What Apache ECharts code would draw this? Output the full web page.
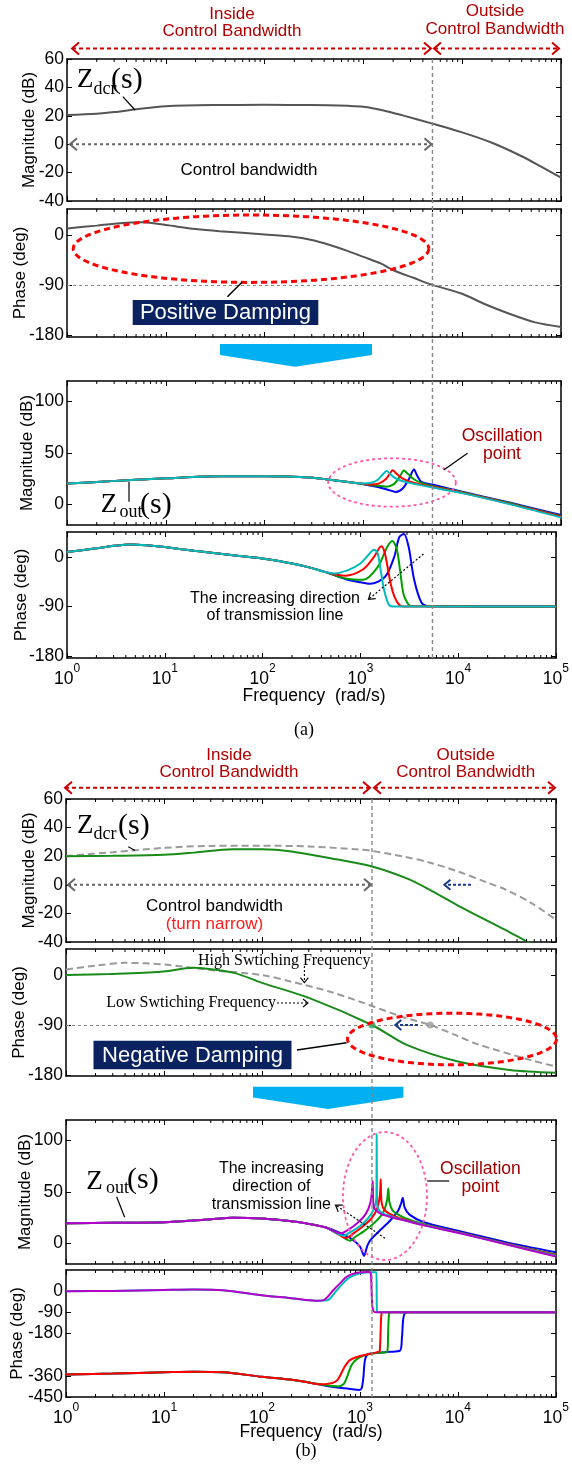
<!DOCTYPE html>
<html>
<head>
<meta charset="utf-8">
<script src="https://cdn.jsdelivr.net/npm/echarts@6.0.0/dist/echarts.min.js"></script>
<style>
html,body{margin:0;padding:0;background:#ffffff;}
#chart{width:572px;height:1469px;}
</style>
</head>
<body>
<div id="chart"></div>
<script>
const SANS = "'Liberation Sans', Arial, Helvetica, sans-serif";
const SERIF = "'Liberation Serif', 'Times New Roman', serif";

// ---------- tick labels ----------
const decadeTicks = [1, 10, 100, 1000, 10000, 100000];
const minorMultipliers = [2, 3, 4, 5, 6, 7, 8, 9];
const magTicks = [-40, -20, 0, 20, 40, 60];
const phaseTicks = [-180, -90, 0];
const zoutMagTicks = [0, 50, 100];
const phaseTicksWide = [-450, -360, -180, -90, 0];

// ---------- reference frequencies (rad/s) ----------
const cutoffA = 5000;   // control bandwidth, case (a)
const cutoffB = 1325;   // control bandwidth, case (b)
const cross90B = [[1325, -90]];     // low switching frequency -90 deg point
const cross90BHigh = [[5200, -90]]; // high switching frequency -90 deg point

// ---------- (a) Zdcr ----------
const zdcrMagA = [[1,20.6],[2,21.5],[3,22.6],[5,24.6],[10,26.8],[30,27.6],[100,27.7],[300,27.6],[700,27],[1000,26.4],[1600,23.8],[2500,20.3],[5000,14.5],[10000,8.3],[20000,1],[40000,-8.5],[65000,-16.4],[100000,-23.5]];
const zdcrPhaseA = [[1,12],[2,17],[3,20.5],[5.8,23],[10,18],[20,11],[35,7],[100,1],[192,-3],[300,-9],[457,-18],[700,-29],[1000,-39.5],[1510,-51.5],[2040,-64],[3250,-77.6],[5000,-90],[10000,-106],[16600,-124],[30000,-142],[55000,-157.6],[100000,-166]];

// ---------- (a) Zout magnitude ----------
const zoutMagBaseA = [[1,20.3],[2,21.8],[4,23.5],[10,25.4],[35,27.4],[100,27.4],[310,26],[437,24.2],[700,21.8]];
const blueMagA  = [[1000,19.7],[1400,17],[1800,14],[2130,12.2],[2500,15.5],[2900,25],[3250,34],[3500,28],[3865,22],[5000,19.3],[10000,12.4],[30000,1.8],[100000,-10.3]];
const greenMagA = [[1000,19.8],[1300,18.5],[1700,17.3],[2050,20],[2350,27.5],[2570,33],[2800,30],[3300,24],[4000,20.5],[5000,18],[10000,11.8],[30000,1.3],[100000,-11.2]];
const redMagA   = [[1000,20],[1200,19.4],[1450,20.5],[1700,25],[1870,30.5],[1980,33.2],[2150,30],[2500,25],[3200,21],[5000,17.2],[10000,11.4],[30000,0.8],[100000,-11.8]];
const cyanMagA  = [[1000,20.3],[1200,21],[1400,24],[1600,30],[1715,32.5],[1850,30],[2100,25.5],[2500,22.5],[3200,20.2],[5000,16.4],[10000,11],[30000,0.3],[100000,-12.6]];

// ---------- (a) Zout phase ----------
const zoutPhBaseA = [[1,9],[2,15.5],[3,20],[4.5,22.6],[7,20.5],[10,17.8],[20,11],[50,3],[100,-3],[200,-12],[300,-19]];
const bluePhA  = [[450,-28],[700,-40],[1000,-46],[1260,-48.6],[1790,-36],[2220,0],[2500,35.6],[2790,41.6],[3120,17.8],[3550,-41.5],[4220,-83],[5000,-89.5],[100000,-90]];
const greenPhA = [[450,-28],[700,-39],[1070,-41.5],[1510,-18],[1870,17],[2120,28.5],[2350,15],[2550,-25],[2750,-66],[3000,-82],[3300,-89],[100000,-90]];
const redPhA   = [[450,-28],[700,-34],[1070,-22.4],[1380,0],[1640,19],[1760,10],[1870,-12],[2050,-50],[2220,-71],[2500,-87],[2800,-90],[100000,-90]];
const cyanPhA  = [[450,-28],[540,-30],[760,-23.5],[1000,-12],[1200,3],[1380,13],[1500,7],[1600,-20],[1750,-60],[1950,-86],[2200,-90],[100000,-90]];

// ---------- (b) Zdcr ----------
const zdcrMagHighB = [[1,20.2],[3,22.8],[10,25.8],[30,27.2],[100,27.3],[300,26.8],[1000,24.6],[1325,23.7],[2760,19.8],[5000,15.8],[10000,9.3],[20000,1.5],[31000,-3.5],[56700,-13],[100000,-24.4]];
const zdcrMagLowB = [[1,20],[3,20.3],[10,21],[20,22.5],[50,24.9],[100,24.9],[200,23.3],[500,18.6],[1325,12.8],[3000,4.5],[5000,-3],[10000,-14.5],[30000,-31.4],[51600,-40],[60000,-43.5]];
const zdcrPhHighB = [[1,10],[2,17],[4,22],[10,19],[30,9],[100,0],[200,-12],[495,-30],[1000,-48],[2760,-76],[5200,-90],[10000,-110],[15500,-124],[56700,-154],[100000,-165]];
const zdcrPhLowB = [[1,0],[2.8,2],[9.3,6],[20,13],[26,12],[52,4],[100,-14],[310,-42],[1325,-90],[3000,-126],[10000,-156],[33600,-171],[100000,-176]];

// ---------- (b) Zout magnitude ----------
const zoutMagBaseB = [[1,19.6],[3,20],[10,20.6],[30,23.5],[50,24.9],[100,24.2],[200,21.5],[300,19],[450,15.5]];
const blueMagB    = [[600,11],[800,5],[1000,-3],[1099,-12],[1180,-3],[1260,2.6],[1585,12.4],[2023,22],[2455,32],[2650,40],[2727,44.5],[2850,35],[3200,28],[4400,21],[10000,12.3],[30000,1.5],[100000,-8.6]];
const greenMagB   = [[600,9.5],[790,2.6],[900,6.5],[1100,12],[1400,20],[1700,29],[1880,41],[1945,53.3],[2000,40],[2200,31],[3000,24],[4400,18.8],[10000,11],[30000,0.3],[100000,-10.8]];
const redMagB     = [[560,10.5],[720,5.3],[850,9.5],[1050,16],[1300,24],[1500,34],[1600,48],[1627,62.5],[1660,40],[1800,32],[2300,26],[3000,22.5],[4400,18.3],[10000,10.8],[30000,0],[100000,-11.3]];
const cyanMagB    = [[560,10.5],[676,7.5],[800,11],[1000,17],[1200,24],[1380,33],[1470,45],[1480,106.6],[1495,38],[1650,30],[2200,25.5],[3000,22],[4400,18],[10000,10.6],[30000,-0.3],[100000,-12]];
const magentaMagB = [[540,12],[625,9.8],[750,13],[950,20],[1150,29],[1280,40],[1335,55],[1348,60.8],[1370,38],[1430,33],[1650,28.5],[2200,25],[3000,21.8],[4400,17.8],[10000,10.3],[30000,-0.6],[100000,-12.8]];

// ---------- (b) Zout phase ----------
const zoutPhUpperBaseB = [[1,0],[3,1],[10,5],[20,7],[40,4],[100,-17],[209,-31],[350,-41]];
const cyanPhB    = [[430,-40],[480,-36],[570,0],[660,30],[780,58],[1000,76],[1300,80],[1475,80],[1482,-20],[1490,-86],[1550,-90],[100000,-90]];
const magentaPhB = [[430,-37],[534,4],[625,33],[731,61],[925,78],[1216,82],[1285,78],[1310,20],[1335,-60],[1380,-86],[1450,-90],[100000,-90]];
const zoutPhLowerBaseB = [[1,-354],[3,-350],[10,-345],[20,-342.5],[40,-345],[100,-364],[209,-378],[300,-388]];
const bluePhB  = [[500,-405],[800,-416],[986,-420],[1040,-413],[1082,-370],[1125,-293],[1216,-267],[1600,-262],[2000,-258],[2560,-253],[2680,-200],[2760,-120],[2860,-95],[3100,-90],[100000,-90]];
const greenPhB = [[450,-400],[600,-405],[680,-396],[731,-370],[822,-314],[925,-290],[1170,-270],[1500,-262],[1900,-258],[1940,-170],[1980,-100],[2060,-90],[100000,-90]];
const redPhB   = [[382,-396],[500,-392],[588,-378],[698,-321],[790,-293],[1000,-276],[1265,-267],[1538,-258],[1590,-256],[1625,-170],[1655,-100],[1720,-90],[100000,-90]];

// ---------- layout ----------
const panels = [
  {left:67, top:59,   width:494, height:142, min:-40,  max:60,  ticks:magTicks,       name:'Magnitude (dB)', nameX:29.3},
  {left:67, top:209,  width:494, height:128, min:-184, max:47,  ticks:phaseTicks,     name:'Phase (deg)',    nameX:20.2},
  {left:67, top:381,  width:494, height:144, min:-20,  max:120, ticks:zoutMagTicks,   name:'Magnitude (dB)', nameX:27.5},
  {left:67, top:532,  width:494, height:126, min:-183, max:45,  ticks:phaseTicks,     name:'Phase (deg)',    nameX:21.1, xlabels:true},
  {left:66, top:799,  width:490, height:143, min:-40,  max:60,  ticks:magTicks,       name:'Magnitude (dB)', nameX:29.3},
  {left:66, top:949,  width:490, height:127, min:-182, max:47,  ticks:phaseTicks,     name:'Phase (deg)',    nameX:19.3},
  {left:66, top:1120, width:490, height:144, min:-20,  max:120, ticks:zoutMagTicks,   name:'Magnitude (dB)', nameX:25.7},
  {left:66, top:1270, width:490, height:127, min:-450, max:90,  ticks:phaseTicksWide, name:'Phase (deg)',    nameX:17.4, xlabels:true}
];

const minorTickVals = [];
decadeTicks.slice(0, -1).forEach(d => minorMultipliers.forEach(m => minorTickVals.push(d * m)));

const C = {blue:'#0000ff', green:'#00a000', red:'#ff0000', cyan:'#00bcbc', magenta:'#b400c8', gray:'#555555', lgray:'#9a9a9a', dgreen:'#1a8a1a'};

const chart = echarts.init(document.getElementById('chart'), null, {renderer:'canvas'});

const option = {animation:false, backgroundColor:'#ffffff', grid:[], xAxis:[], yAxis:[], series:[]};
const axLine = {show:true, onZero:false, lineStyle:{color:'#000', width:1.5}};
const decadeRich = {
  b:{fontSize:17.5, fontFamily:SANS, color:'#000', lineHeight:25, verticalAlign:'bottom'},
  s:{fontSize:12, fontFamily:SANS, color:'#000', lineHeight:12, verticalAlign:'top'}
};

panels.forEach((p, i) => {
  option.grid.push({left:p.left, top:p.top, width:p.width, height:p.height, containLabel:false});
  const xBase = {type:'log', logBase:10, gridIndex:i, min:1, max:100000, axisLine:axLine,
    axisTick:{show:true, inside:true, length:5, lineStyle:{color:'#000', width:1}}, splitLine:{show:false}};
  option.xAxis.push(Object.assign({}, xBase, {position:'bottom',
    axisLabel:{show:!!p.xlabels, margin:5, formatter:v => '{b|10}{s|' + Math.round(Math.log10(v)) + '}', rich:decadeRich}}));
  option.xAxis.push(Object.assign({}, xBase, {position:'top', axisLabel:{show:false}}));
  const yBase = {type:'value', gridIndex:i, min:p.min, max:p.max, axisLine:axLine, splitLine:{show:false},
    axisTick:{show:true, inside:true, length:5, customValues:p.ticks, lineStyle:{color:'#000', width:1}}};
  option.yAxis.push(Object.assign({}, yBase, {position:'left',
    axisLabel:{show:true, customValues:p.ticks, margin:3, fontSize:17.5, fontFamily:SANS, color:'#000'}}));
  option.yAxis.push(Object.assign({}, yBase, {position:'right', axisLabel:{show:false}}));
  // minor log ticks (top and bottom, inside)
  option.series.push({type:'custom', xAxisIndex:2*i, yAxisIndex:2*i, silent:true, clip:false, z:5,
    data: minorTickVals.map(v => [v, p.min]),
    renderItem:(params, api) => {
      const x = api.coord([api.value(0), api.value(1)])[0];
      const cs = params.coordSys;
      return {type:'group', children:[
        {type:'line', shape:{x1:x, y1:cs.y + cs.height, x2:x, y2:cs.y + cs.height - 3}, style:{stroke:'#000', lineWidth:1}},
        {type:'line', shape:{x1:x, y1:cs.y, x2:x, y2:cs.y + 3}, style:{stroke:'#000', lineWidth:1}}
      ]};
    }});
});

function addLine(panel, data, color, o) {
  o = o || {};
  const s = {type:'line', xAxisIndex:2*panel, yAxisIndex:2*panel, data:data, showSymbol:false, symbol:'none',
    smooth:o.smooth === undefined ? 0.3 : o.smooth, silent:true, clip:true, z:o.z || 3,
    lineStyle:{color:color, width:o.width || 2, type:o.dash || 'solid'}};
  if (o.mark90) {
    s.markLine = {silent:true, symbol:'none', label:{show:false}, animation:false,
      lineStyle:{color:'#888', type:[3,3], width:1.2}, data:[{yAxis:-90}]};
  }
  option.series.push(s);
}

// (a)
addLine(0, zdcrMagA, C.gray);
addLine(1, zdcrPhaseA, C.gray, {mark90:true});
addLine(2, zoutMagBaseA.concat(blueMagA), C.blue);
addLine(2, zoutMagBaseA.concat(greenMagA), C.green);
addLine(2, zoutMagBaseA.concat(redMagA), C.red);
addLine(2, zoutMagBaseA.concat(cyanMagA), C.cyan);
addLine(3, zoutPhBaseA.concat(bluePhA), C.blue);
addLine(3, zoutPhBaseA.concat(greenPhA), C.green);
addLine(3, zoutPhBaseA.concat(redPhA), C.red);
addLine(3, zoutPhBaseA.concat(cyanPhA), C.cyan);
// (b)
addLine(4, zdcrMagHighB, C.lgray, {dash:[7,4]});
addLine(4, zdcrMagLowB, C.dgreen);
addLine(5, zdcrPhHighB, C.lgray, {dash:[7,4], mark90:true});
addLine(5, zdcrPhLowB, C.dgreen);
option.series.push({type:'scatter', xAxisIndex:10, yAxisIndex:10, data:cross90B, symbolSize:7, itemStyle:{color:'#22aa55'}, z:6, silent:true});
option.series.push({type:'scatter', xAxisIndex:10, yAxisIndex:10, data:cross90BHigh, symbolSize:7, itemStyle:{color:'#999999'}, z:6, silent:true});
addLine(6, zoutMagBaseB.concat(blueMagB), C.blue);
addLine(6, zoutMagBaseB.concat(greenMagB), C.green);
addLine(6, zoutMagBaseB.concat(redMagB), C.red);
addLine(6, zoutMagBaseB.concat(cyanMagB), C.cyan);
addLine(6, zoutMagBaseB.concat(magentaMagB), C.magenta);
addLine(7, zoutPhLowerBaseB.concat(bluePhB), C.blue);
addLine(7, zoutPhLowerBaseB.concat(greenPhB), C.green);
addLine(7, zoutPhLowerBaseB.concat(redPhB), C.red);
addLine(7, zoutPhUpperBaseB.concat(cyanPhB), C.cyan);
addLine(7, zoutPhUpperBaseB.concat(magentaPhB), C.magenta);

chart.setOption(option);

// ---------- annotations ----------
const px = (ax, v) => chart.convertToPixel({xAxisIndex:ax}, v);
const py = (ax, v) => chart.convertToPixel({yAxisIndex:ax}, v);
const G = [];
function txt(x, y, text, o) {
  o = o || {};
  G.push({type:'text', x:x, y:y, rotation:o.rot || 0, silent:true, z:100,
    style:{text:text, fill:o.color || '#000', fontSize:o.size || 17, fontFamily:o.family || SANS,
      fontWeight:o.weight || 'normal', align:o.align || 'center', verticalAlign:o.va || 'middle', lineHeight:o.lh || undefined}});
}
function seg(x1, y1, x2, y2, color, lw, dash) {
  G.push({type:'line', silent:true, z:100, shape:{x1:x1, y1:y1, x2:x2, y2:y2}, style:{stroke:color, lineWidth:lw, lineDash:dash || null}});
}
function head(xa, ya, xb, yb, color, lw, L, H) {
  const ang = Math.atan2(yb - ya, xb - xa);
  const bx = xb - L * Math.cos(ang), by = yb - L * Math.sin(ang);
  const ox = -Math.sin(ang) * H, oy = Math.cos(ang) * H;
  G.push({type:'polyline', silent:true, z:100, shape:{points:[[bx + ox, by + oy], [xb, yb], [bx - ox, by - oy]]},
    style:{stroke:color, lineWidth:lw, fill:null}});
}
function arrow(x1, y1, x2, y2, o) {
  seg(x1, y1, x2, y2, o.color, o.lw, o.dash);
  head(x1, y1, x2, y2, o.color, o.hlw || o.lw, o.hl || 7, o.hw || 5);
  if (o.both) head(x2, y2, x1, y1, o.color, o.hlw || o.lw, o.hl || 7, o.hw || 5);
}
function ellipse(cx, cy, rx, ry, color, lw, dash) {
  const pts = [];
  for (let k = 0; k <= 120; k++) { const t = k / 120 * 2 * Math.PI; pts.push([cx + rx * Math.cos(t), cy + ry * Math.sin(t)]); }
  G.push({type:'polyline', silent:true, z:100, shape:{points:pts}, style:{stroke:color, lineWidth:lw, lineDash:dash, fill:null}});
}
function zLabel(x, yZ, sub, ySub, subX, sX, yS) {
  txt(x, yZ, 'Z', {family:SERIF, size:27, align:'left'});
  txt(subX, ySub, sub, {family:SERIF, size:18, align:'left'});
  txt(sX, yS, '(s)', {family:SERIF, size:30, align:'left'});
}

// y-axis names
panels.forEach(p => txt(p.nameX, p.top + p.height / 2, p.name, {size:17, rot:Math.PI / 2}));

// ----- (a) -----
const xCutA = px(0, cutoffA);
const xL_A = px(0, 1), xR_A = px(0, 100000);
seg(xCutA, panels[0].top, xCutA, panels[3].top + panels[3].height, '#888', 1.4, [4,3]);
txt(232, 23, 'Inside\nControl Bandwidth', {color:'#b00000', lh:17.5});
txt(495, 20.5, 'Outside\nControl Bandwidth', {color:'#b00000', lh:17.5});
arrow(xL_A + 5, 48.5, xCutA - 1.5, 48.5, {color:'#cc0000', lw:2, dash:[4,3], both:true, hlw:2, hl:7, hw:6});
arrow(xCutA + 1.5, 48.5, xR_A - 2, 48.5, {color:'#cc0000', lw:2, dash:[4,3], both:true, hlw:2, hl:7, hw:6});
const y0A = py(0, 0);
arrow(xL_A + 3, y0A, xCutA - 1, y0A, {color:'#666', lw:2, dash:[3,3], both:true, hlw:2, hl:7, hw:6});
txt(249, 170, 'Control bandwidth');
zLabel(77, 80, 'dcr', 89, 93.5, 111, 80);
seg(122.8, 96.7, 135, 110, '#000', 1.2);
ellipse(251, 248.7, 177.8, 33.7, '#ff0000', 3, [6,4]);
seg(242, 282.3, 227.4, 296.7, '#000', 1.5);
G.push({type:'rect', silent:true, z:99, shape:{x:132.7, y:300, width:185.6, height:25}, style:{fill:'#0b2260'}});
txt(225.5, 312.8, 'Positive Damping', {color:'#fff', size:22});
G.push({type:'polygon', silent:true, z:99, shape:{points:[[220,344],[372,344],[372,355],[295,366.7],[220,355]]}, style:{fill:'#00b0f0'}});
zLabel(100.8, 505, 'out', 512, 119.5, 140, 505);
seg(129, 481.7, 129, 501.7, '#000', 1.2);
ellipse(392, 482.5, 63.8, 24.2, '#ff55aa', 1.8, [3,3]);
txt(502, 445, 'Oscillation\npoint', {color:'#a00000', size:17.5, lh:17.5});
seg(443.7, 470, 467.5, 453.3, '#000', 1.2);
arrow(423.5, 554, 368.5, 599.3, {color:'#000', lw:1.2, dash:[2,2], hlw:1.2, hl:6, hw:4});
txt(275, 607, 'The increasing direction\nof transmission line', {size:16, lh:17.5});
txt((xL_A + xR_A) / 2, 695.7, 'Frequency  (rad/s)', {size:17.5});
txt(304, 730, '(a)', {family:SERIF, size:18});

// ----- (b) -----
const xCutB = px(8, cutoffB);
const xL_B = px(8, 1), xR_B = px(8, 100000);
seg(xCutB, panels[4].top, xCutB, panels[7].top + panels[7].height, '#888', 1.4, [4,3]);
txt(229, 763.7, 'Inside\nControl Bandwidth', {color:'#b00000', lh:17.5});
txt(465.7, 763.7, 'Outside\nControl Bandwidth', {color:'#b00000', lh:17.5});
arrow(xL_B - 1, 787.7, xCutB - 2, 787.7, {color:'#cc0000', lw:2, dash:[4,3], both:true, hlw:2, hl:7, hw:6});
arrow(xCutB + 2, 787.7, xR_B - 1, 787.7, {color:'#cc0000', lw:2, dash:[4,3], both:true, hlw:2, hl:7, hw:6});
const y0B = py(8, 0);
arrow(xL_B + 2, y0B, xCutB - 1, y0B, {color:'#666', lw:2, dash:[3,3], both:true, hlw:2, hl:7, hw:6});
txt(214.5, 906, 'Control bandwidth');
txt(214.5, 924.3, '(turn narrow)', {color:'#ff1a1a'});
zLabel(77, 826, 'dcr', 834, 93.5, 118, 826);
seg(128.3, 846.7, 135, 850.5, '#000', 1.2);
arrow(471, y0B, 444.4, y0B, {color:'#1a3a8a', lw:2, dash:[3,2], hlw:2, hl:6, hw:5});
const y90B = py(10, -90);
txt(284.2, 961, 'High Swtiching Frequency', {family:SERIF, size:16});
arrow(304.4, 966, 304.4, 982.7, {color:'#000', lw:1.1, dash:[2,2], hlw:1.1, hl:5, hw:4});
txt(276, 1002.7, 'Low Swtiching Frequency', {family:SERIF, size:16, align:'right'});
arrow(277, 1003, 308, 1003, {color:'#000', lw:1.1, dash:[2,2], hlw:1.1, hl:5, hw:4});
ellipse(452, 1039, 104.5, 25.8, '#ff0000', 3, [6,4]);
arrow(418, y90B, 395.3, y90B, {color:'#1a3a8a', lw:2, dash:[3,2], hlw:2, hl:6, hw:5});
G.push({type:'rect', silent:true, z:99, shape:{x:93.5, y:1040.7, width:198, height:28.6}, style:{fill:'#0b2260'}});
txt(192.5, 1055.5, 'Negative Damping', {color:'#fff', size:22});
seg(297, 1050, 346.5, 1042.7, '#000', 1.5);
G.push({type:'polygon', silent:true, z:99, shape:{points:[[253,1086.7],[403.4,1086.7],[403.4,1097.5],[328,1109],[253,1097.5]]}, style:{fill:'#00b0f0'}});
zLabel(86.2, 1181.5, 'out', 1188, 106, 127, 1180.5);
seg(116.6, 1196.7, 124.7, 1217.3, '#000', 1.2);
txt(271.4, 1186.7, 'The increasing\ndirection of\ntransmission line', {size:16, lh:18.3});
arrow(385, 1238.3, 335.5, 1205, {color:'#000', lw:1.2, dash:[2,2], hlw:1.2, hl:6, hw:4});
ellipse(385, 1196, 42, 64, '#ff55aa', 1.8, [3,3]);
txt(480.4, 1178, 'Oscillation\npoint', {color:'#a00000', size:17.5, lh:17.4});
seg(427.2, 1181, 449.2, 1181, '#000', 1.2);
txt((xL_B + xR_B) / 2, 1431.7, 'Frequency  (rad/s)', {size:17.5});
txt(306, 1451.7, '(b)', {family:SERIF, size:18});

chart.setOption({graphic:{elements:G}});
</script>
</body>
</html>
